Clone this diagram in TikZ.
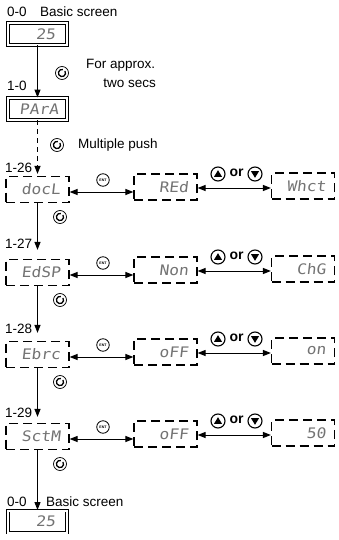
\documentclass[tikz,border=0pt]{standalone}
\usepackage{fontspec}
\setmainfont{Liberation Sans}
\newfontfamily\segfont{DejaVu Sans Mono}[FakeSlant=0.12,FakeStretch=1.12]
\usetikzlibrary{arrows.meta}
\begin{document}
\begin{tikzpicture}[x=1pt,y=-1pt,
  lbl/.style={font=\fontsize{13.5}{14}\selectfont, inner sep=0pt, anchor=west},
  seg/.style={font=\segfont\fontsize{14.5}{15}\selectfont, text=black!55},
  dbox/.style={draw, dash pattern=on 9pt off 5pt, line width=1.2pt, minimum width=63pt, minimum height=26pt, inner sep=0pt, seg, text width=46pt, align=right},
  sbox/.style={draw, double, double distance=2pt, line width=0.9pt, minimum width=59pt, minimum height=22pt, inner sep=0pt, seg, text width=36pt, align=right},
  arr/.style={-{Triangle[length=8pt,width=6pt]}, line width=1pt},
  darr/.style={{Triangle[length=8pt,width=6pt]}-{Triangle[length=8pt,width=6pt]}, line width=1pt},
  rot/.style={circle, draw, line width=0.7pt, minimum size=13pt, inner sep=0pt},
  ent/.style={circle, draw, line width=0.8pt, minimum size=12.5pt, inner sep=0pt, font=\fontsize{3.6}{4}\selectfont\bfseries},
  updn/.style={circle, draw, line width=1.1pt, minimum size=14pt, inner sep=0pt}
]
\useasboundingbox (0,0) rectangle (339,540);
\begin{scope}
\clip (0,0) rectangle (339,540);
% top
\node[lbl] (t00) at (7,12) {0-0};
\node[lbl] (tbs) at (40,12) {Basic screen};
\node[sbox] (B0) at (37.5,34) {25};
\node[lbl] (t10) at (7,86) {1-0};
\node[sbox] (P0) at (37.5,109) {PArA};
\node[rot] (r0) at (62,73) {};
\node[lbl] (fa) at (86,65) {For approx.};
\node[lbl, anchor=east] (ts) at (156,83) {two secs};
\draw[arr] (B0.south) -- (P0.north);
\node[rot] (rm) at (57,145) {};
\node[lbl] (mp) at (78,145) {Multiple push};
% rows
\node[lbl] (l126) at (5,168) {1-26};
\node[lbl] (l127) at (5,244) {1-27};
\node[lbl] (l128) at (5,329) {1-28};
\node[lbl] (l129) at (5,413) {1-29};
\foreach \k/\T/\a/\b/\c in {1/177/docL/REd/Whct, 2/260/EdSP/Non/ChG, 3/342/Ebrc/oFF/on, 4/424/SctM/oFF/50}{
  \node[dbox] (L\k) at (37.5,\T+12.5) {\a};
  \node[dbox] (M\k) at (165.5,\T+10) {\b};
  \node[dbox] (R\k) at (303,\T+9) {\c};
  \draw[darr] ([yshift=-2.5pt]L\k.east) -- ([yshift=-2.5pt]L\k.east -| M\k.west);
  \draw[darr] ([yshift=-1pt]M\k.east) -- ([yshift=-1pt]M\k.east -| R\k.west);
  \node[ent] (e\k) at (103,\T+3) {ENT};
  \node[updn] (u\k) at (218,\T-3) {};
  \fill ([yshift=3.8pt]u\k.center) -- ++(-4pt,-6.6pt) -- ++(8pt,0pt) -- cycle;
  \node[font=\fontsize{14}{14}\selectfont\bfseries, inner sep=0pt] (o\k) at (236.5,\T-4) {or};
  \node[updn] (d\k) at (255,\T-3) {};
  \fill ([yshift=-3.8pt]d\k.center) -- ++(-4pt,6.6pt) -- ++(8pt,0pt) -- cycle;
  \node[rot] (r\k) at (60,\T+40) {};
}
\draw[-{Triangle[length=8pt,width=6pt]}, line width=1pt, dash pattern=on 5pt off 4pt] (P0.south) -- ([yshift=2pt]L1.north);
\draw[arr] (L1.south) -- ([yshift=9pt]L2.north);
\draw[arr] (L2.south) -- ([yshift=8pt]L3.north);
\draw[arr] (L3.south) -- ([yshift=6pt]L4.north);
% bottom
\node[lbl] (b00) at (7,502) {0-0};
\node[lbl] (bbs) at (46,502) {Basic screen};
\node[sbox] (B9) at (37.5,521.5) {25};
\draw[arr] (L4.south) -- (B9.north);
% rotation icon inner arcs
\foreach \n in {r0,rm,r1,r2,r3,r4}{
  \draw[line width=1.3pt] (\n.center) ++(75:3.6pt) arc[start angle=75, end angle=395, radius=3.6pt];
}
\end{scope}
\end{tikzpicture}
\end{document}
